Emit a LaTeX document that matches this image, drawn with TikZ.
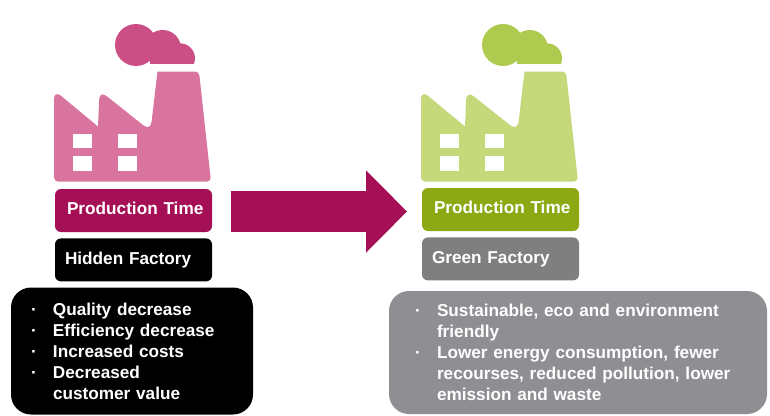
\documentclass[tikz,border=0pt]{standalone}
\usepackage{fontspec}
\setmainfont{Liberation Sans}
\usepackage{tikz}
\usetikzlibrary{arrows.meta, positioning}
\definecolor{hiddenbody}{HTML}{D9749F}
\definecolor{hiddensmoke}{HTML}{CB4F85}
\definecolor{hiddentime}{HTML}{A50F55}
\definecolor{greenbody}{HTML}{C5D97A}
\definecolor{greensmoke}{HTML}{AFCB4F}
\definecolor{greentime}{HTML}{8CA812}
\definecolor{greenname}{HTML}{7F7F7F}
\definecolor{greenlist}{HTML}{8E8E93}
% Fabrica: #1 desplazamiento, #2 cuerpo, #3 humo
\newcommand{\factoryicon}[3]{
    \begin{scope}[xshift=#1]
        \fill[#2] (98,126.5) [rounded corners=9pt] -- (99.5,90.5) -- (150.5,131) [sharp corners] -- (157.5,71.5) [rounded corners=4pt] -- (199,71.5) -- (211,181.5) -- (54,181.5) [rounded corners=9pt] -- (54,90) -- (98,126.5);
        \fill[white] (73,134) rectangle (92,148);
        \fill[white] (73,156) rectangle (92,171);
        \fill[white] (118,134) rectangle (137,148);
        \fill[white] (118,156) rectangle (137,171);
        \fill[#3] (136,45) circle (21);
        \begin{scope}
            \clip (140,20) rectangle (195,63.5);
            \fill[#3] (162.7,48.3) circle (18.3);
            \fill[#3] (180,58.3) circle (15);
            \fill[#3] (150,50) rectangle (190,64);
        \end{scope}
    \end{scope}
}
\newcommand{\listdot}{\makebox[22pt][l]{\textperiodcentered}}

\begin{document}
\begin{tikzpicture}[
        x=1pt, y=-1pt,
        labelbox/.style={rectangle, rounded corners=6pt, minimum width=157pt, minimum height=43pt, inner xsep=8pt, inner ysep=0pt, text width=141pt, text height=13pt, text depth=4.5pt, align=left, text=white, font=\fontsize{17.2}{21}\selectfont\bfseries},
        listbox/.style={rectangle, rounded corners=20pt, inner ysep=0pt, align=left, text=white, font=\fontsize{17.2}{21}\selectfont\bfseries},
        shiftarrow/.style={line width=41pt, hiddentime, -{Triangle[length=41pt, width=80pt]}}
    ]
        \useasboundingbox (0,0) rectangle (770,415);

        % Iconos de las fabricas
        \factoryicon{0pt}{hiddenbody}{hiddensmoke}
        \factoryicon{367pt}{greenbody}{greensmoke}

        % Columna izquierda
        \node[labelbox, fill=hiddentime] (hiddentimebox) at (133.5,210.5) {\hspace*{4pt}Production Time};
        \node[labelbox, fill=black, below=6pt of hiddentimebox] (hiddenname) {\hspace*{2pt}Hidden Factory};
        \node[listbox, fill=black, minimum width=242pt, minimum height=127pt, inner xsep=20pt, text width=202pt] (hiddenlist) at (132,351) {
            \listdot Quality decrease \\
            \listdot Efficiency decrease \\
            \listdot Increased costs \\
            \listdot Decreased \\
            \hspace*{22pt}customer value
        };

        % Columna derecha
        \node[labelbox, fill=greentime] (greentimebox) at (500.5,209.5) {\hspace*{4pt}Production Time};
        \node[labelbox, fill=greenname, below=6pt of greentimebox] (greenname) {\hspace*{2pt}Green Factory};
        \node[listbox, fill=greenlist, minimum width=378pt, minimum height=123pt, inner xsep=26pt, text width=326pt] (greenlistbox) at (578,352.5) {
            \listdot Sustainable, eco and environment \\
            \hspace*{22pt}friendly \\
            \listdot Lower energy consumption, fewer \\
            \hspace*{22pt}recourses, reduced pollution, lower \\
            \hspace*{22pt}emission and waste
        };

        % Flecha entre columnas
        \coordinate (arrowstart) at (231,211.5);
        \coordinate (arrowend) at (407,211.5);
        \draw[shiftarrow] (arrowstart) -- (arrowend);
    \end{tikzpicture}
\end{document}
